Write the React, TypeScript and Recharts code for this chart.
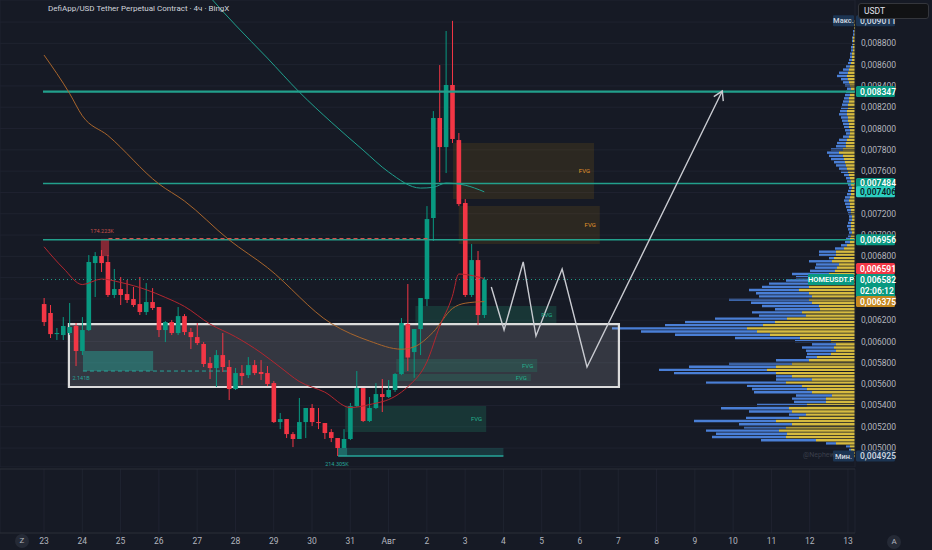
import React from "react";
import {
  ComposedChart,
  BarChart,
  Bar,
  Line,
  XAxis,
  YAxis,
  CartesianGrid,
  ReferenceArea,
  ReferenceLine,
  ReferenceDot,
} from "recharts";

const BG = "#161a25";
const GRID = "#1f2330";
const PANE_LINE = "#2a2e39";
const TEXT = "#b2b5be";
const UP = "#089981";
const DOWN = "#f23645";
const LEVEL = "#22a08c";
const PATH = "#c9cbd1";
const FONT = "Roboto, 'Noto Sans', sans-serif";

// plot range: candle index on x, price on y
const X_MIN = -6.9;
const X_MAX = 127.1;
const Y_MIN = 0.004822;
const Y_MAX = 0.009207;

const dayLabels = ["23", "24", "25", "26", "27", "28", "29", "30", "31", "Авг", "2", "3", "4", "5", "6", "7", "8", "9", "10", "11", "12", "13"];
const dayTicks = dayLabels.map((_, k) => k * 6);
const priceTicks = [0.005, 0.0052, 0.0054, 0.0056, 0.0058, 0.006, 0.0062, 0.0064, 0.0066, 0.0068, 0.007, 0.0072, 0.0074, 0.0076, 0.0078, 0.008, 0.0082, 0.0084, 0.0086, 0.0088, 0.009];
// tick labels that sit fully under a coloured price label
const coveredTicks = [0.0066, 0.0074, 0.009];

// 4h candles, starting 23 Jul 00:00
const candleOpen = [
  0.006352, 0.006268, 0.00607, 0.006061, 0.00608, 0.006146, 0.005911, 0.006108, 0.006737, 0.006803,
  0.006747, 0.006437, 0.006493, 0.006446, 0.006399, 0.006352, 0.006277, 0.006371, 0.006324, 0.006108,
  0.006183, 0.00608, 0.006239, 0.006089, 0.006042, 0.005977, 0.005798, 0.005751, 0.005873, 0.005761,
  0.005554, 0.005704, 0.005685, 0.005779, 0.005714, 0.005704, 0.00561, 0.005244, 0.005272, 0.005131,
  0.005085, 0.005244, 0.005376, 0.005244, 0.005235, 0.00515, 0.005094, 0.005, 0.005085, 0.005394,
  0.005563, 0.005254, 0.005376, 0.005507, 0.005479, 0.005545, 0.005695, 0.006164, 0.005901, 0.006117,
  0.006399, 0.00716, 0.008099, 0.007826, 0.008409, 0.007892, 0.007301, 0.006437, 0.006765, 0.006249,
];
const candleHigh = [
  0.006409, 0.006343, 0.006127, 0.00623, 0.006362, 0.006174, 0.00623, 0.006812, 0.00684, 0.006859,
  0.006812, 0.006681, 0.006606, 0.006578, 0.006512, 0.006606, 0.006549, 0.006502, 0.006324, 0.006193,
  0.006202, 0.006324, 0.006258, 0.006127, 0.006174, 0.005995, 0.005854, 0.00592, 0.00608, 0.005826,
  0.005751, 0.005779, 0.005854, 0.005826, 0.005826, 0.00577, 0.005629, 0.005329, 0.005272, 0.00515,
  0.00547, 0.005376, 0.005413, 0.005376, 0.005235, 0.005178, 0.005094, 0.005178, 0.005423, 0.005723,
  0.005563, 0.005479, 0.00561, 0.005648, 0.005639, 0.005704, 0.006221, 0.00654, 0.006117, 0.006409,
  0.007272, 0.008164, 0.008596, 0.008916, 0.009011, 0.007958, 0.007338, 0.006916, 0.00685, 0.006606,
];
const candleLow = [
  0.006146, 0.006033, 0.006014, 0.006014, 0.006061, 0.00577, 0.005873, 0.006099, 0.006418, 0.006653,
  0.006418, 0.006409, 0.006343, 0.006362, 0.006324, 0.006249, 0.006249, 0.006296, 0.006042, 0.005995,
  0.006061, 0.006061, 0.006061, 0.00593, 0.005967, 0.005761, 0.005648, 0.005573, 0.005714, 0.005451,
  0.005545, 0.005592, 0.005657, 0.005685, 0.005639, 0.005582, 0.005235, 0.005178, 0.005094, 0.005009,
  0.005085, 0.005094, 0.005207, 0.005178, 0.005085, 0.005056, 0.004925, 0.005, 0.005075, 0.005385,
  0.005244, 0.005244, 0.005366, 0.005338, 0.00547, 0.005526, 0.005685, 0.005723, 0.00566, 0.005873,
  0.006333, 0.006944, 0.007498, 0.007582, 0.007864, 0.007272, 0.006418, 0.006418, 0.006155, 0.006221,
];
const candleClose = [
  0.006183, 0.00607, 0.00608, 0.006146, 0.006136, 0.005911, 0.006108, 0.006747, 0.006803, 0.006737,
  0.006437, 0.006493, 0.006437, 0.00639, 0.006343, 0.006277, 0.006371, 0.006315, 0.006108, 0.006183,
  0.00608, 0.006239, 0.006089, 0.006042, 0.005986, 0.005789, 0.005751, 0.005873, 0.005761, 0.005554,
  0.005704, 0.005676, 0.005779, 0.005704, 0.005695, 0.005601, 0.005244, 0.005272, 0.005131, 0.005085,
  0.005244, 0.005376, 0.005244, 0.005235, 0.005141, 0.005094, 0.005, 0.005085, 0.005394, 0.005563,
  0.005254, 0.005376, 0.005507, 0.005479, 0.005545, 0.005695, 0.006174, 0.00585, 0.006117, 0.006409,
  0.00715, 0.008099, 0.007826, 0.008409, 0.007902, 0.007291, 0.006437, 0.006765, 0.006249, 0.006582,
];

// moving averages, [candle index, price]
const maTeal: [number, number][] = [
  [22, 0.00952], [26, 0.009235], [30, 0.008972], [35, 0.008662], [40, 0.008343], [45, 0.008061],
  [50, 0.007798], [54, 0.007592], [59, 0.007441], [61, 0.007448], [63, 0.007488], [66, 0.007468],
  [69, 0.007406],
];
const maOrange: [number, number][] = [
  [0, 0.00869], [4, 0.00833], [6, 0.00812], [10, 0.007935], [18, 0.00748], [22, 0.00732],
  [29, 0.006955], [35, 0.006695], [45, 0.00617], [51, 0.006005], [56, 0.005928], [58, 0.00595],
  [61, 0.006089], [64, 0.00631], [66, 0.00636], [69, 0.006375],
];
const maRed: [number, number][] = [
  [0, 0.00689], [3, 0.00669], [6, 0.006535], [9, 0.006587], [12, 0.006555], [16, 0.006487],
  [19, 0.006415], [22, 0.00633], [26, 0.006165], [30, 0.006045], [34, 0.005895], [37, 0.00576],
  [40, 0.005625], [44, 0.005525], [48, 0.00538], [51, 0.005408], [55, 0.005485], [57, 0.005575],
  [60, 0.005808], [62, 0.00614], [64, 0.006425], [65, 0.006634], [66, 0.00663], [69, 0.006591],
];

// projected path drawn on the chart
const projection: [number, number][] = [
  [70.1, 0.006512], [72.1, 0.006108], [75.1, 0.006747], [77.1, 0.006052], [81.2, 0.006681],
  [85.1, 0.005761], [106.3, 0.008352],
];

const levels = [0.008347, 0.007484, 0.006956];
const currentPrice = 0.006582;

// zones: [x1, x2, lowPrice, highPrice]
const fvgBrown: [number, number, number, number][] = [
  [64.1, 86.2, 0.007338, 0.007864],
  [65.0, 87.1, 0.006916, 0.007272],
];
const fvgGreen: [number, number, number, number][] = [
  [58.2, 80.3, 0.006174, 0.006333],
  [55.2, 77.3, 0.005714, 0.005836],
  [55.5, 76.3, 0.005629, 0.005695],
  [47.2, 69.3, 0.00515, 0.005394],
];
const rangeBox: [number, number, number, number] = [3.9, 90.1, 0.005573, 0.006164];
const demandBox: [number, number, number, number] = [6.1, 17.1, 0.005723, 0.005911];
const lowBox: [number, number, number, number] = [46.1, 72, 0.004925, 0.005];
const highMark: [number, number, number, number] = [8.9, 10.2, 0.006803, 0.006965];

// volume profile rows (bottom to top), buy = yellow, sell = blue
const profileStart = 0.00492;
const profileStep = 0.00003;
const profileBuy = [
  2, 3, 4, 5, 19, 39, 69, 68, 76, 69, 63, 79, 56, 49, 63, 66, 48, 29, 29, 23,
  43, 48, 53, 69, 43, 63, 79, 88, 79, 63, 46, 38, 24, 19, 21, 19, 24, 55, 85, 98,
  108, 92, 80, 68, 49, 53, 35, 36, 43, 46, 43, 46, 56, 46, 43, 29, 23, 26, 20, 18,
  16, 23, 21, 19, 19, 11, 8, 5, 5, 4, 3, 4, 4, 4, 3, 3, 4, 4, 5, 5,
  6, 5, 4, 4, 3, 4, 4, 5, 6, 7, 8, 9, 10, 11, 12, 16, 12, 9, 9, 8,
  6, 5, 5, 6, 6, 7, 7, 8, 8, 7, 7, 6, 6, 5, 5, 4, 5, 6, 7, 8,
  7, 6, 5, 4, 3, 3, 3, 2, 2, 2, 2, 2, 1, 1, 1, 1, 1,
];
const profileSell = [
  1, 1, 2, 4, 10, 55, 74, 71, 73, 42, 53, 82, 53, 17, 43, 68, 50, 32, 34, 36,
  58, 55, 55, 80, 36, 16, 102, 108, 87, 63, 33, 11, 24, 30, 32, 24, 36, 65, 95, 116,
  135, 98, 90, 72, 47, 50, 45, 57, 61, 80, 53, 53, 50, 47, 43, 40, 36, 37, 25, 22,
  23, 23, 5, 17, 17, 9, 6, 5, 4, 3, 3, 3, 4, 3, 3, 3, 3, 4, 4, 5,
  5, 5, 4, 3, 3, 3, 4, 4, 5, 7, 8, 10, 11, 13, 14, 12, 12, 10, 9, 8,
  6, 4, 5, 5, 6, 6, 7, 8, 7, 7, 6, 6, 5, 5, 4, 4, 5, 6, 7, 10,
  9, 6, 4, 3, 3, 2, 2, 2, 2, 1, 1, 1, 1, 1, 0, 0, 0,
];

// labels on the price scale
const markerPrices = [0.009011, 0.008347, 0.007484, 0.007406, 0.006956, 0.006591, 0.006582, 0.006375, 0.004925];
const markerStyles: { bg: string; fg: string; tag?: string; tagW?: number; sub?: string; dy?: number }[] = [
  { bg: "#1c3553", fg: "#c9d1dc", tag: "Макс.", tagW: 21 },
  { bg: "#089981", fg: "#ffffff" },
  { bg: "#089981", fg: "#ffffff" },
  { bg: "#2ccfc1", fg: "#0c1c1f" },
  { bg: "#089981", fg: "#ffffff" },
  { bg: "#f23645", fg: "#ffffff", dy: -10 },
  { bg: "#089981", fg: "#ffffff", tag: "HOMEUSDT.P", tagW: 46, sub: "02:06:12" },
  { bg: "#c5881f", fg: "#ffffff" },
  { bg: "#1c3553", fg: "#c9d1dc", tag: "Мин.", tagW: 21 },
];

const fmt = (v: number) => v.toFixed(6).replace(".", ",");

const candleRows = candleOpen.map((o, i) => ({
  i,
  open: o,
  high: candleHigh[i],
  low: candleLow[i],
  close: candleClose[i],
  range: [candleLow[i], candleHigh[i]],
}));
const toRows = (pts: [number, number][]) => pts.map(([i, v]) => ({ i, v }));
const profileRows = profileBuy.map((b, k) => ({ p: profileStart + k * profileStep, buy: b, sell: profileSell[k] }));

function Candle(props: any) {
  const { x, y, width, height, payload } = props;
  if (x == null || y == null || !payload) return <g />;
  const { open, close, high, low } = payload;
  const color = close >= open ? UP : DOWN;
  const top = Math.min(y, y + height);
  const h = Math.abs(height);
  const span = high - low || 1;
  const at = (v: number) => top + ((high - v) / span) * h;
  const bTop = at(Math.max(open, close));
  const bBot = at(Math.min(open, close));
  const cx = x + width / 2;
  return (
    <g>
      <line x1={cx} x2={cx} y1={top} y2={top + h} stroke={color} strokeWidth={1} />
      <rect x={x} y={bTop} width={width} height={Math.max(1, bBot - bTop)} fill={color} />
    </g>
  );
}

function PriceTick(props: any) {
  const { x, y, payload } = props;
  if (coveredTicks.includes(payload.value)) return <g />;
  return (
    <text x={x + 6} y={y} dy="0.35em" fill={TEXT} fontSize={8.5} textAnchor="start">
      {fmt(payload.value)}
    </text>
  );
}

function MarkerTick(props: any) {
  const { x, y, payload } = props;
  const k = markerPrices.indexOf(payload.value);
  if (k < 0) return <g />;
  const s = markerStyles[k];
  const cy = y + (s.dy || 0);
  const left = x - 75;
  const h = s.sub ? 23 : 11;
  return (
    <g>
      {s.tag && (
        <g>
          <rect x={x - 77 - (s.tagW || 0)} y={cy - 5.5} width={s.tagW} height={11} fill={s.bg} rx={1} />
          <text x={x - 77 - (s.tagW || 0) / 2} y={cy} dy="0.35em" fill={s.fg} fontSize={7.5} fontWeight={600} textAnchor="middle">
            {s.tag}
          </text>
        </g>
      )}
      <rect x={left} y={cy - 5.5} width={39} height={h} fill={s.bg} rx={1.5} />
      <text x={left + 4} y={cy} dy="0.35em" fill={s.fg} fontSize={8.5} fontWeight={600}>
        {fmt(payload.value)}
      </text>
      {s.sub && (
        <text x={left + 4} y={cy + 11} dy="0.35em" fill={s.fg} fontSize={8.5} fontWeight={600}>
          {s.sub}
        </text>
      )}
    </g>
  );
}

function ArrowDot(props: any) {
  const { cx, cy, index } = props;
  if (index !== projection.length - 1 || cx == null) return <g key={`a${index}`} />;
  return (
    <polyline
      key={`a${index}`}
      points={`${cx - 8.5},${cy + 5.5} ${cx},${cy} ${cx + 1},${cy + 10}`}
      fill="none"
      stroke={PATH}
      strokeWidth={1.4}
    />
  );
}

const smallLabel = (value: string, fill: string) => ({ value, position: "center" as const, fill, fontSize: 5.5 });

export default function App() {
  return (
    <div style={{ position: "relative", width: 932, height: 550, background: BG, overflow: "hidden", fontFamily: FONT }}>
      <style>{`body{margin:0;background:${BG}}`}</style>

      {/* volume profile, under the price chart */}
      <div style={{ position: "absolute", left: 0, top: 0 }}>
        <BarChart layout="vertical" width={932} height={467} data={profileRows} margin={{ top: 0, right: 77, bottom: 0, left: 0 }}>
          <XAxis type="number" hide domain={[0, 855]} reversed allowDataOverflow />
          <YAxis type="number" dataKey="p" hide domain={[Y_MIN, Y_MAX]} reversed allowDataOverflow />
          <Bar dataKey="buy" stackId="vp" fill="#d6bb40" barSize={2.4} isAnimationActive={false} />
          <Bar dataKey="sell" stackId="vp" fill="#4a7fd6" barSize={2.4} isAnimationActive={false} />
        </BarChart>
      </div>

      {/* price chart */}
      <div style={{ position: "absolute", left: 0, top: 0 }}>
        <ComposedChart width={932} height={467} data={candleRows} margin={{ top: 0, right: 0, bottom: 0, left: 0 }}>
          <CartesianGrid stroke={GRID} />
          <XAxis type="number" dataKey="i" domain={[X_MIN, X_MAX]} ticks={dayTicks} allowDataOverflow height={0} tick={false} axisLine={false} tickLine={false} />
          <YAxis
            orientation="right"
            width={76}
            domain={[Y_MIN, Y_MAX]}
            ticks={priceTicks}
            allowDataOverflow
            axisLine={false}
            tickLine={false}
            tickSize={0}
            tickMargin={0}
            interval={0}
            tick={(p: any) => <PriceTick {...p} />}
          />
          <YAxis
            yAxisId="lab"
            orientation="right"
            width={1}
            domain={[Y_MIN, Y_MAX]}
            ticks={markerPrices}
            allowDataOverflow
            axisLine={false}
            tickLine={false}
            tickSize={0}
            tickMargin={0}
            interval={0}
            tick={(p: any) => <MarkerTick {...p} />}
          />

          <ReferenceArea x1={rangeBox[0]} x2={rangeBox[1]} y1={rangeBox[2]} y2={rangeBox[3]} fill="#ffffff" fillOpacity={0.13} stroke="#dcdcdc" strokeWidth={2.2} />
          {fvgBrown.map((z, k) => (
            <ReferenceArea
              key={`b${k}`}
              x1={z[0]}
              x2={z[1]}
              y1={z[2]}
              y2={z[3]}
              fill="#f7a600"
              fillOpacity={0.1}
              stroke="none"
              label={{ value: "FVG", position: "insideRight", fill: "#e2952b", fontSize: 6, offset: 4 }}
            />
          ))}
          {fvgGreen.map((z, k) => (
            <ReferenceArea
              key={`g${k}`}
              x1={z[0]}
              x2={z[1]}
              y1={z[2]}
              y2={z[3]}
              fill="#1e9c78"
              fillOpacity={0.22}
              stroke="none"
              label={{ value: "FVG", position: "insideRight", fill: "#25b08e", fontSize: 6, offset: 4 }}
            />
          ))}
          <ReferenceArea x1={demandBox[0]} x2={demandBox[1]} y1={demandBox[2]} y2={demandBox[3]} fill="#26a69a" fillOpacity={0.45} stroke="none" />
          <ReferenceArea x1={lowBox[0]} x2={lowBox[1]} y1={lowBox[2]} y2={lowBox[3]} fill="#26a69a" fillOpacity={0.22} stroke="none" />
          <ReferenceArea x1={lowBox[0]} x2={lowBox[0] + 1.4} y1={lowBox[2]} y2={lowBox[3]} fill="#26a69a" fillOpacity={0.45} stroke="none" />
          <ReferenceArea x1={highMark[0]} x2={highMark[1]} y1={highMark[2]} y2={highMark[3]} fill="#f23645" fillOpacity={0.5} stroke="none" />

          {levels.map((v, k) => (
            <ReferenceLine
              key={`l${k}`}
              segment={[{ x: -0.16, y: v }, { x: X_MAX, y: v }]}
              stroke={LEVEL}
              strokeWidth={k === 0 ? 2.2 : 1.4}
            />
          ))}
          <ReferenceLine segment={[{ x: 10.1, y: 0.006966 }, { x: 60.2, y: 0.006966 }]} stroke="#d0504a" strokeDasharray="4 3" strokeWidth={1.2} />
          <ReferenceLine segment={[{ x: demandBox[0], y: demandBox[2] }, { x: 28.7, y: demandBox[2] }]} stroke="#26a69a" strokeDasharray="4 3" strokeWidth={1} />
          <ReferenceLine segment={[{ x: lowBox[0], y: lowBox[2] }, { x: lowBox[1], y: lowBox[2] }]} stroke="#26a69a" strokeWidth={1.4} />
          <ReferenceLine segment={[{ x: -0.16, y: currentPrice }, { x: X_MAX, y: currentPrice }]} stroke={LEVEL} strokeDasharray="1 3" strokeWidth={1} />

          <Bar dataKey="range" shape={(p: any) => <Candle {...p} />} activeBar={false} barSize={4.6} isAnimationActive={false} />

          <Line data={toRows(maTeal)} dataKey="v" type="monotone" stroke="#1f9f8d" strokeWidth={1} dot={false} activeDot={false} isAnimationActive={false} connectNulls />
          <Line data={toRows(maOrange)} dataKey="v" type="monotone" stroke="#a8652c" strokeWidth={1} dot={false} activeDot={false} isAnimationActive={false} connectNulls />
          <Line data={toRows(maRed)} dataKey="v" type="monotone" stroke="#b3262f" strokeWidth={1} dot={false} activeDot={false} isAnimationActive={false} connectNulls />
          <Line
            data={toRows(projection)}
            dataKey="v"
            type="linear"
            stroke={PATH}
            strokeWidth={1.4}
            dot={(p: any) => <ArrowDot {...p} />}
            activeDot={false}
            isAnimationActive={false}
          />

          <ReferenceDot x={9.1} y={0.007038} r={0} fill="none" stroke="none" label={smallLabel("174.223K", "#c8504a")} />
          <ReferenceDot x={5.8} y={0.005657} r={0} fill="none" stroke="none" label={smallLabel("2.141B", "#26a69a")} />
          <ReferenceDot x={45.9} y={0.00485} r={0} fill="none" stroke="none" label={smallLabel("214.305K", "#26a69a")} />
        </ComposedChart>
      </div>

      {/* empty lower panes and the date scale */}
      <div style={{ position: "absolute", left: 0, top: 467 }}>
        <ComposedChart width={932} height={83} data={candleRows} margin={{ top: 2, right: 77, bottom: 0, left: 0 }}>
          <CartesianGrid stroke={GRID} horizontal={false} />
          <CartesianGrid stroke={PANE_LINE} vertical={false} />
          <XAxis
            type="number"
            dataKey="i"
            domain={[X_MIN, X_MAX]}
            ticks={dayTicks}
            allowDataOverflow
            height={17}
            interval={0}
            axisLine={false}
            tickLine={false}
            tickSize={0}
            tickMargin={5}
            tick={{ fill: TEXT, fontSize: 8.5 }}
            tickFormatter={(v: number) => dayLabels[Math.round(v / 6)]}
          />
          <YAxis hide domain={[0, 3]} ticks={[0, 1, 2, 3]} />
        </ComposedChart>
      </div>

      <div style={{ position: "absolute", left: 48, top: 4, fontSize: 8, color: "#d1d4dc", whiteSpace: "nowrap" }}>
        DefiApp/USD Tether Perpetual Contract · 4ч · BingX
      </div>
      <div
        style={{
          position: "absolute",
          left: 858,
          top: 3,
          width: 71,
          height: 16,
          background: "#111214",
          border: "1px solid #34363c",
          borderRadius: 3,
          boxSizing: "border-box",
          color: "#e0e3eb",
          fontSize: 8.5,
          lineHeight: "14px",
          paddingLeft: 5,
        }}
      >
        USDT
      </div>
      <div style={{ position: "absolute", left: 803, top: 451, fontSize: 7, color: "#3a3f4b", whiteSpace: "nowrap" }}>@Nephew_</div>
      <div
        style={{
          position: "absolute",
          left: 15,
          top: 534,
          width: 14,
          height: 14,
          borderRadius: 7,
          background: "#252a36",
          color: TEXT,
          fontSize: 8,
          textAlign: "center",
          lineHeight: "14px",
        }}
      >
        Z
      </div>
      <div
        style={{
          position: "absolute",
          left: 887,
          top: 535,
          width: 14,
          height: 14,
          borderRadius: 7,
          background: "#252a36",
          color: TEXT,
          fontSize: 8,
          textAlign: "center",
          lineHeight: "14px",
        }}
      >
        A
      </div>
    </div>
  );
}
